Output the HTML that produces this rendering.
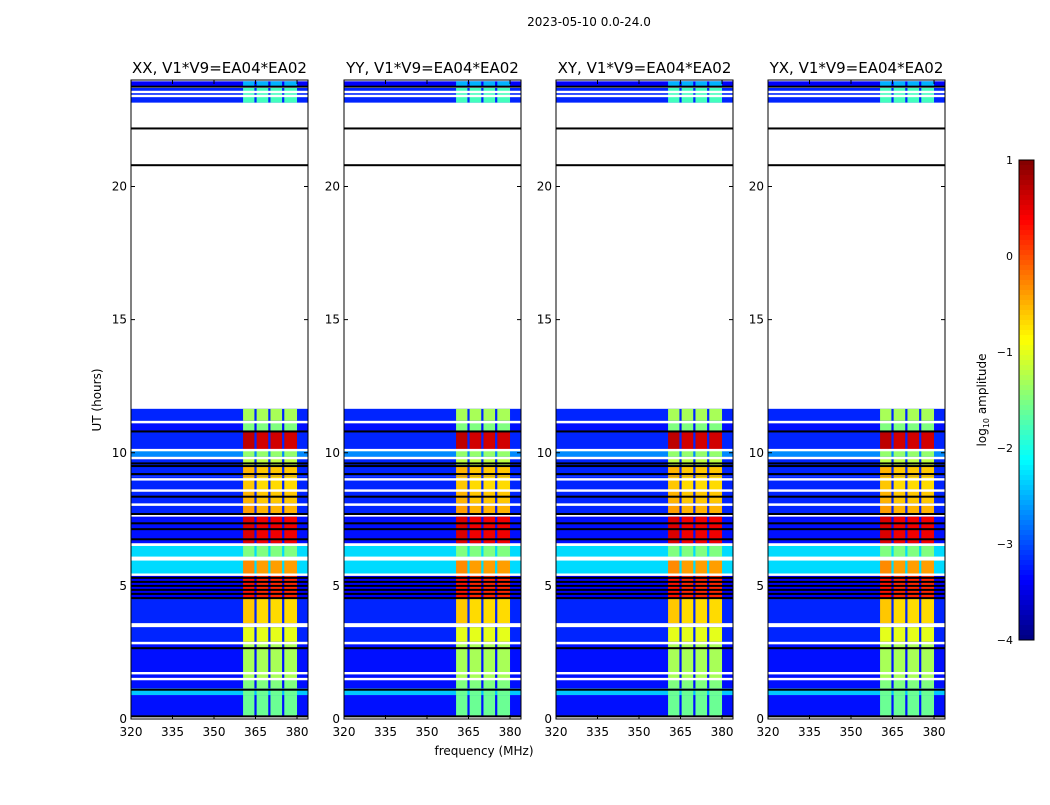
<!DOCTYPE html>
<html><head><meta charset="utf-8"><style>
body{margin:0;background:#fff;font-family:"Liberation Sans","DejaVu Sans",sans-serif}
svg text{font-family:"DejaVu Sans","Liberation Sans",sans-serif}
</style></head><body>
<svg id="c" width="1050" height="800" xmlns="http://www.w3.org/2000/svg">
<rect width="1050" height="800" fill="#fff"/>
<text x="589" y="26" font-size="12" text-anchor="middle">2023-05-10 0.0-24.0</text>
<text x="484" y="755" font-size="12" text-anchor="middle">frequency (MHz)</text>
<text x="0" y="0" font-size="12" text-anchor="middle" transform="translate(101,400) rotate(-90)">UT (hours)</text>
<g id="panels"></g>
<g id="cbar"></g>
</svg>
<script>
const panelNames=["XX, V1*V9=EA04*EA02","YY, V1*V9=EA04*EA02","XY, V1*V9=EA04*EA02","YX, V1*V9=EA04*EA02"];
const panelX=[131,344,556,768];
// time bands (hours) with background and RFI log amplitudes
const bandStart=[0.1,0.9,1.15,1.5,2.9,3.6,4.55,5.45,6.1,6.6,7.7,8.1,8.6,9.1,9.5,9.85,10.1,10.8,11.2,23.15,23.75];
const bandEnd  =[0.9,1.15,1.5,2.9,3.45,4.55,5.4,5.95,6.5,7.6,8.1,8.6,9.1,9.5,9.85,10.1,10.8,11.2,11.65,23.7,23.95];
const bgLevel  =[-3.3,-2.4,-3.3,-3.3,-3.2,-3.2,-3.4,-2.3,-2.3,-3.3,-3.2,-3.2,-3.2,-3.2,-3.2,-2.7,-3.2,-3.3,-3.2,-3.2,-3.4];
const rfiLevel =[-1.6,-1.6,-1.5,-1.3,-1.0,-0.7,0.2,-0.4,-1.5,0.45,-0.5,-0.6,-0.7,-0.6,-1.2,-1.4,0.6,-1.5,-1.3,-1.8,-2.5];
const blackLines=[0.1,1.1,2.66,4.54,4.7,4.85,5.0,5.15,5.3,6.75,7.13,7.35,7.7,8.35,9.2,9.5,9.6,10.8,20.8,22.18,23.75];
const whiteLines=[1.5,1.72,2.85,5.42,6.0,6.55,8.05,8.58,9.0,9.8,10.1,11.15,23.4,23.55];
const subBandStart=[360.5,365.4,370.4,375.4];
const subBandEnd=[364.6,369.6,374.6,380.0];
const xTicks=[320,335,350,365,380];
const yTicks=[0,5,10,15,20];
const cbTicks=[1,0,-1,-2,-3,-4];
const cbLabels=["1","0","\u22121","\u22122","\u22123","\u22124"];

const PW=177, TOP=80, BOT=719;
const yS=h=>BOT-h*(BOT-TOP)/24;
const xS=(x0,f)=>x0+(f-320)*2.767;
function jet(v){let t=(v+4)/5;t=Math.max(0,Math.min(1,t));
 const r=Math.max(0,Math.min(1,1.5-Math.abs(4*t-3))),g=Math.max(0,Math.min(1,1.5-Math.abs(4*t-2))),b=Math.max(0,Math.min(1,1.5-Math.abs(4*t-1)));
 return `rgb(${Math.round(r*255)},${Math.round(g*255)},${Math.round(b*255)})`;}
const NS="http://www.w3.org/2000/svg";
function mk(p,tag,at){const e=document.createElementNS(NS,tag);for(const k in at)e.setAttribute(k,at[k]);p.appendChild(e);return e;}
const G=document.getElementById('panels');
panelX.forEach((x0,pi)=>{
 const g=mk(G,'g',{});
 
 
 const cp=mk(g,'clipPath',{id:'cp'+pi});mk(cp,'rect',{x:x0,y:TOP,width:PW,height:BOT-TOP});
 const d=mk(g,'g',{'clip-path':`url(#cp${pi})`});
 bandStart.forEach((s,i)=>{
  const y1=yS(bandEnd[i]),y2=yS(s);
  const r=mk(d,'rect',{x:x0,y:y1,width:PW,height:y2-y1,fill:jet(bgLevel[i])});
  
  
  subBandStart.forEach((fs,j)=>{
   const a=xS(x0,fs),b=xS(x0,subBandEnd[j]);
   const lv=rfiLevel[i]+(j===0&&rfiLevel[i]>-1?0.1:0);
   const q=mk(d,'rect',{x:a,y:y1,width:b-a,height:y2-y1,fill:jet(lv)});
   
   
  });
 });
 whiteLines.forEach(h=>{const l=mk(d,'rect',{x:x0,y:yS(h)-1.2,width:PW,height:2.4,fill:'#fff'});
  });
 blackLines.forEach(h=>{const l=mk(d,'rect',{x:x0,y:yS(h)-1,width:PW,height:2,fill:'#000'});
  });
 mk(g,'rect',{x:x0,y:TOP,width:PW,height:BOT-TOP,fill:'none',stroke:'#000','stroke-width':1});
 const t=mk(g,'text',{x:x0+PW/2,y:73,'font-size':15,'text-anchor':'middle'});t.textContent=panelNames[pi];
 
 xTicks.forEach(f=>{const x=xS(x0,f);
  mk(g,'line',{x1:x,x2:x,y1:BOT,y2:BOT-4,stroke:'#000'});mk(g,'line',{x1:x,x2:x,y1:TOP,y2:TOP+4,stroke:'#000'});
  const l=mk(g,'text',{x:x,y:736,'font-size':12,'text-anchor':'middle'});l.textContent=f;
  });
 yTicks.forEach(h=>{const y=yS(h);
  mk(g,'line',{x1:x0,x2:x0+4,y1:y,y2:y,stroke:'#000'});mk(g,'line',{x1:x0+PW,x2:x0+PW-4,y1:y,y2:y,stroke:'#000'});
  const l=mk(g,'text',{x:x0-4,y:y+4,'font-size':12,'text-anchor':'end'});l.textContent=h;
  });
});
// colorbar
const C=document.getElementById('cbar');


const cy=v=>160+(1-v)*96;
for(let i=0;i<96;i++){const v=1-i*5/96;mk(C,'rect',{x:1019,y:160+i*5,width:15,height:5.3,fill:jet(v-0.026)});}
mk(C,'rect',{x:1019,y:160,width:15,height:480,fill:'none',stroke:'#000'});
cbTicks.forEach((v,i)=>{const y=cy(v);
 const l=mk(C,'text',{x:1013,y:y+4,'font-size':11,'text-anchor':'end'});l.textContent=cbLabels[i];
 });
const cl=mk(C,'text',{'font-size':12,'text-anchor':'middle',transform:'translate(986,400) rotate(-90)'});
cl.innerHTML='log<tspan font-size="8" dy="3">10</tspan><tspan dy="-3"> amplitude</tspan>';


</script>
</body></html>
